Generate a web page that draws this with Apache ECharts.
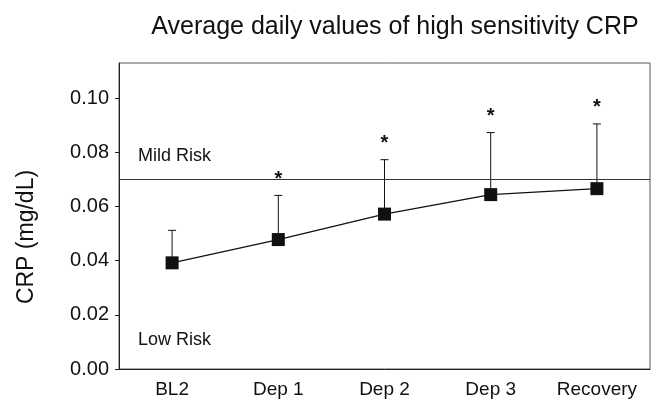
<!DOCTYPE html>
<html>
<head>
<meta charset="utf-8">
<script src="https://cdn.jsdelivr.net/npm/echarts@6/dist/echarts.min.js"></script>
<style>
  html, body { margin: 0; padding: 0; background: #fff; }
  #chart { width: 665px; height: 412px; }
</style>
</head>
<body>
<div id="chart"></div>
<script>
// data
const categories = ['BL2', 'Dep 1', 'Dep 2', 'Dep 3', 'Recovery'];
const meanCrp = [0.0392, 0.0478, 0.0572, 0.0644, 0.0666];
const upperSd = [0.0512, 0.0641, 0.0773, 0.0873, 0.0905];
const significant = [false, true, true, true, true];
const yTicks = [0, 0.02, 0.04, 0.06, 0.08, 0.10];
const mildRiskCut = 0.07;

const FONT = 'Liberation Sans';
const chart = echarts.init(document.getElementById('chart'));

const errData = categories.map((c, i) => [i, meanCrp[i], upperSd[i], significant[i] ? 1 : 0]);

const option = {
  backgroundColor: '#fff',
  animation: false,
  title: {
    text: 'Average daily values of high sensitivity CRP',
    left: 390,
    top: 10,
    textAlign: 'center',
    textStyle: { fontFamily: FONT, fontSize: 25, fontWeight: 'normal', color: '#111' }
  },
  grid: {
    left: 119, right: 15, top: 63, bottom: 43,
    show: true, borderColor: '#555', borderWidth: 1
  },
  xAxis: {
    type: 'category',
    data: categories,
    boundaryGap: true,
    axisLine: { lineStyle: { color: '#222', width: 1 } },
    axisTick: { alignWithLabel: true, length: 5, lineStyle: { color: '#222' } },
    axisLabel: { fontFamily: FONT, fontSize: 19, color: '#111', margin: 11 }
  },
  yAxis: {
    type: 'value',
    min: 0,
    max: 0.113,
    axisLine: { show: true, lineStyle: { color: '#222', width: 1 } },
    axisTick: { show: true, length: 4, customValues: yTicks, lineStyle: { color: '#222' } },
    splitLine: { show: false },
    axisLabel: {
      fontFamily: FONT, fontSize: 20, color: '#111', margin: 10,
      customValues: yTicks,
      formatter: v => v.toFixed(2)
    }
  },
  graphic: [
    { type: 'text', x: 27, y: 237, rotation: Math.PI / 2,
      style: { text: 'CRP (mg/dL)', fontFamily: FONT, fontSize: 23, fill: '#111', align: 'center', verticalAlign: 'middle' } },
    { type: 'text', left: 138, top: 147, style: { text: 'Mild Risk', fontFamily: FONT, fontSize: 18, fill: '#111' } },
    { type: 'text', left: 138, top: 331, style: { text: 'Low Risk', fontFamily: FONT, fontSize: 18, fill: '#111' } }
  ],
  series: [
    {
      type: 'custom',
      data: errData,
      z: 1,
      renderItem: function (params, api) {
        const x = api.value(0);
        const lo = api.coord([x, api.value(1)]);
        const hi = api.coord([x, api.value(2)]);
        const children = [
          { type: 'line', shape: { x1: lo[0], y1: lo[1], x2: hi[0], y2: hi[1] }, style: { stroke: '#111', lineWidth: 1 } },
          { type: 'line', shape: { x1: hi[0] - 4, y1: hi[1], x2: hi[0] + 4, y2: hi[1] }, style: { stroke: '#111', lineWidth: 1 } }
        ];
        if (api.value(3)) {
          children.push({
            type: 'text',
            style: { text: '*', x: hi[0], y: hi[1] - 16, align: 'center', verticalAlign: 'middle',
              fontFamily: FONT, fontSize: 20, fontWeight: 'bold', fill: '#111' }
          });
        }
        return { type: 'group', children: children };
      }
    },
    {
      type: 'line',
      data: meanCrp,
      z: 3,
      symbol: 'rect',
      symbolSize: 13,
      itemStyle: { color: '#111' },
      lineStyle: { color: '#111', width: 1.3 },
      markLine: {
        silent: true,
        symbol: 'none',
        label: { show: false },
        lineStyle: { color: '#333', width: 1, type: 'solid' },
        data: [{ yAxis: mildRiskCut }]
      }
    }
  ]
};

chart.setOption(option);
</script>
</body>
</html>
